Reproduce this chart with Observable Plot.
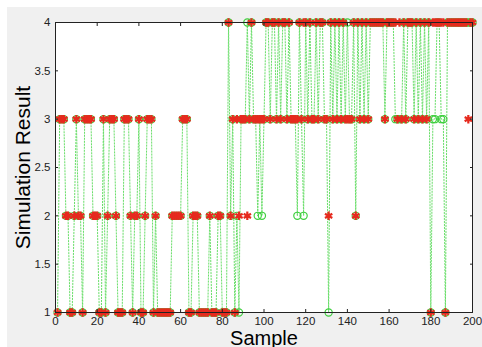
<!DOCTYPE html>
<html><head><meta charset="utf-8">
<script src="https://cdn.jsdelivr.net/npm/d3@7"></script>
<script src="https://cdn.jsdelivr.net/npm/@observablehq/plot@0.6"></script>
<style>
body{margin:0;background:#fff}
svg{display:block}
g[aria-label="x-axis label"] text{font-size:20px;fill:#000}
g[aria-label="y-axis label"] text{font-size:21px;fill:#000}
</style>
</head><body><div id="chart"></div>
<script>
const samples = d3.range(1, 201);
const predicted = [
1,3,3,3,2,2,1,1,2,3,
2,2,1,3,3,3,3,2,2,2,
1,1,3,1,2,3,3,3,2,1,
1,1,3,3,3,2,1,2,2,3,
1,1,2,3,3,3,1,2,1,1,
1,1,1,1,1,2,2,2,2,2,
3,3,3,1,1,2,2,2,1,1,
1,1,1,2,1,1,1,2,2,1,
1,1,4,2,3,1,3,2,3,3,
3,2,3,4,3,3,3,3,3,3,
4,4,3,4,4,3,4,3,4,4,
3,4,3,3,3,3,4,3,4,4,
3,4,3,3,4,3,4,4,3,3,
2,4,3,4,3,4,3,4,3,3,
3,3,4,2,4,3,4,3,4,3,
4,4,4,4,4,4,4,3,4,4,
4,4,4,3,4,3,4,3,4,4,
4,3,4,3,4,3,4,3,4,1,
4,4,4,4,4,4,1,4,4,4,
4,4,4,4,4,4,4,3,4,4];
const actual = [
1,3,3,3,2,2,1,1,2,3,
2,2,1,3,3,3,3,2,2,2,
1,1,3,1,2,3,3,3,2,1,
1,1,3,3,3,2,1,2,2,3,
1,1,2,3,3,3,1,2,1,1,
1,1,1,1,1,2,2,2,2,2,
3,3,3,1,1,2,2,2,1,1,
1,1,1,2,1,1,1,2,2,1,
1,1,4,2,3,1,2,1,3,3,
3,4,3,4,3,3,2,3,2,3,
4,4,3,4,4,3,4,3,4,4,
3,4,3,3,3,2,4,3,2,4,
3,4,3,3,4,3,4,4,3,3,
1,4,3,4,3,4,3,4,3,4,
3,3,4,2,4,3,4,3,4,3,
4,4,4,4,4,4,4,3,4,4,
4,4,3,3,3,3,4,3,4,4,
4,3,4,3,4,3,4,3,4,1,
3,3,4,4,3,3,1,4,4,4,
4,4,4,4,4,4,4,4,4,4];
const xTicks = [0,20,40,60,80,100,120,140,160,180,200];
const yTicks = [1,1.5,2,2.5,3,3.5,4];

const data = samples.map((s, i) => ({sample: s, actual: actual[i], predicted: predicted[i]}));

const chart = Plot.plot({
  width: 482, height: 347,
  marginLeft: 55, marginRight: 10, marginTop: 22, marginBottom: 35,
  style: {
    background: "linear-gradient(#fff,#fff) 0 0/100% 7px no-repeat, linear-gradient(#fff,#fff) 0 0/7px 100% no-repeat, #f0f0f0",
    fontFamily: "'Liberation Sans', Arial, sans-serif",
    color: "#222",
    overflow: "visible"
  },
  x: {domain: [0, 200]},
  y: {domain: [1, 4]},
  marks: [
    Plot.frame({fill: "white", stroke: "none"}),
    Plot.line(data, {x: "sample", y: "actual", stroke: "#6ade6a", strokeWidth: 1, strokeDasharray: "1.3,1.7"}),
    Plot.dot(data, {x: "sample", y: "actual", r: 3.6, stroke: "#3fcf3f", strokeWidth: 1.2}),
    Plot.dot(data, {x: "sample", y: "predicted", symbol: "asterisk", r: 4, stroke: "#e62a1e", strokeWidth: 2.2}),
    Plot.frame({stroke: "#222", strokeWidth: 1}),
    Plot.axisX({ticks: xTicks, tickSize: -3, tickPadding: 7, fontSize: 11.5, tickFormat: d => `${d}`,
      label: "Sample", labelAnchor: "center", labelArrow: false, labelOffset: 32}),
    Plot.axisX({anchor: "top", ticks: xTicks, tickSize: -3, tickFormat: () => "", label: null}),
    Plot.axisY({ticks: yTicks, tickSize: -3, tickPadding: 8, fontSize: 11.5, tickFormat: d => `${d}`,
      label: "Simulation Result", labelAnchor: "center", labelArrow: false, labelOffset: 40}),
    Plot.axisY({anchor: "right", ticks: yTicks, tickSize: -3, tickFormat: () => "", label: null})
  ]
});
document.getElementById("chart").append(chart);
</script>
</body></html>
